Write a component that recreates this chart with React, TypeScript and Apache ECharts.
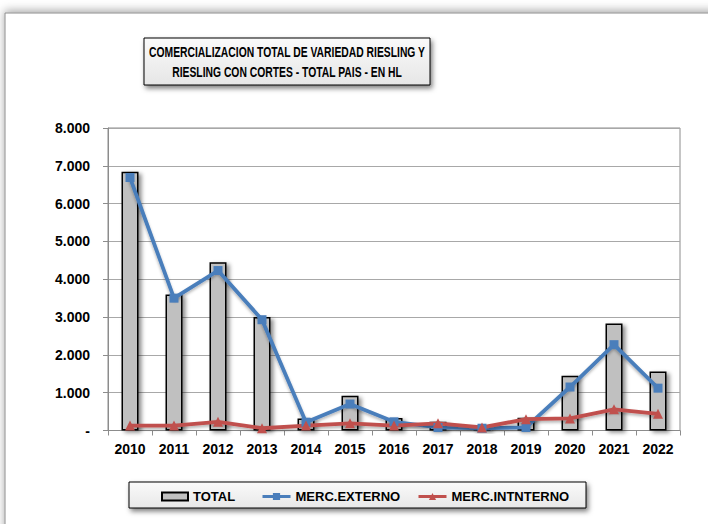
import React, { useEffect, useRef } from "react";
import * as echarts from "echarts";

const years = ["2010", "2011", "2012", "2013", "2014", "2015", "2016", "2017", "2018", "2019", "2020", "2021", "2022"];
const total = [6840, 3600, 4450, 3000, 320, 920, 330, 230, 130, 340, 1450, 2830, 1560];
const externo = [6690, 3500, 4230, 2930, 220, 700, 230, 80, 60, 80, 1150, 2270, 1120];
const interno = [130, 130, 230, 60, 130, 190, 130, 190, 80, 300, 320, 560, 440];
const titleLines = ["COMERCIALIZACION TOTAL DE VARIEDAD RIESLING Y", "RIESLING CON CORTES - TOTAL PAIS - EN HL"];
const seriesNames = ["TOTAL", "MERC.EXTERNO", "MERC.INTNTERNO"];

const fmt = (v: number) => (v === 0 ? "-" : String(v).replace(/\B(?=(\d{3})+(?!\d))/g, "."));

const AXIS_FONT = "'Liberation Sans', Arial, sans-serif";

export default function App() {
  const ref = useRef<HTMLDivElement>(null);
  useEffect(() => {
    if (!ref.current) return;
    const chart = echarts.init(ref.current, null, { renderer: "svg" });
    const legendText = { fontFamily: AXIS_FONT, fontWeight: "bold", fontSize: 13, color: "#000" };
    const legendBase = { top: 490, itemWidth: 28, itemHeight: 9, padding: 0, textStyle: legendText, lineStyle: { width: 3 } };
    chart.setOption({
      animation: false,
      backgroundColor: "#ffffff",
      graphic: [
        {
          type: "rect",
          z: -10,
          silent: true,
          shape: { x: 5, y: 13, width: 760, height: 560 },
          style: { fill: "#ffffff", stroke: "#8c8c8c", lineWidth: 1, shadowBlur: 10, shadowColor: "rgba(0,0,0,0.35)", shadowOffsetY: -2 },
        },
        {
          type: "rect",
          silent: true,
          shape: { x: 144, y: 38, width: 286, height: 47 },
          style: {
            fill: new echarts.graphic.LinearGradient(0, 0, 0, 1, [
              { offset: 0, color: "#fafafa" },
              { offset: 1, color: "#e6e6e6" },
            ]),
            stroke: "#000",
            lineWidth: 1,
            shadowBlur: 5,
            shadowOffsetX: 2,
            shadowOffsetY: 3,
            shadowColor: "rgba(0,0,0,0.5)",
          },
        },
        {
          type: "text",
          silent: true,
          x: 287,
          y: 52,
          scaleX: 0.69,
          style: { text: titleLines[0], fill: "#000", font: `bold 15px ${AXIS_FONT}`, align: "center", verticalAlign: "middle" },
        },
        {
          type: "text",
          silent: true,
          x: 287,
          y: 72,
          scaleX: 0.69,
          style: { text: titleLines[1], fill: "#000", font: `bold 15px ${AXIS_FONT}`, align: "center", verticalAlign: "middle" },
        },
        {
          type: "rect",
          silent: true,
          z: -1,
          shape: { x: 129, y: 482, width: 457, height: 26 },
          style: {
            fill: new echarts.graphic.LinearGradient(0, 0, 0, 1, [
              { offset: 0, color: "#fafafa" },
              { offset: 1, color: "#e8e8e8" },
            ]),
            stroke: "#000",
            lineWidth: 1,
            shadowBlur: 5,
            shadowOffsetX: 2,
            shadowOffsetY: 3,
            shadowColor: "rgba(0,0,0,0.5)",
          },
        },
      ],
      legend: [
        { ...legendBase, left: 161, itemHeight: 8, itemWidth: 26, data: [{ name: seriesNames[0], icon: "rect" }] },
        { ...legendBase, left: 261, data: [seriesNames[1]] },
        { ...legendBase, left: 417, data: [seriesNames[2]] },
      ],
      grid: { left: 108, top: 128, width: 572, height: 302.5, show: true, borderColor: "#8c8c8c", borderWidth: 1, backgroundColor: "#fff", containLabel: false },
      xAxis: {
        type: "category",
        data: years,
        boundaryGap: true,
        axisLine: { show: true, lineStyle: { color: "#8c8c8c", width: 1 } },
        axisTick: { show: true, interval: 0, length: 5, lineStyle: { color: "#8c8c8c" } },
        axisLabel: { color: "#000", fontFamily: AXIS_FONT, fontWeight: "bold", fontSize: 14, margin: 11, interval: 0 },
      },
      yAxis: {
        type: "value",
        min: 0,
        max: 8000,
        interval: 1000,
        axisLine: { show: true, lineStyle: { color: "#8c8c8c", width: 1 } },
        axisTick: { show: true, length: 5, lineStyle: { color: "#8c8c8c" } },
        axisLabel: { color: "#000", fontFamily: AXIS_FONT, fontWeight: "bold", fontSize: 14, margin: 18, formatter: fmt },
        splitLine: { show: true, lineStyle: { color: "#a8a8a8", width: 1 } },
      },
      series: [
        {
          name: seriesNames[0],
          type: "bar",
          data: total,
          barWidth: 17,
          itemStyle: {
            color: "#c0c0c0",
            borderColor: "#000",
            borderWidth: 1.5,
            shadowBlur: 4,
            shadowOffsetX: 3,
            shadowOffsetY: 2,
            shadowColor: "rgba(0,0,0,0.45)",
          },
        },
        {
          name: seriesNames[1],
          type: "line",
          data: externo,
          symbol: "rect",
          symbolSize: 9,
          color: "#4a7ebb",
          lineStyle: { color: "#4a7ebb", width: 3.8, shadowBlur: 3, shadowOffsetY: 2, shadowColor: "rgba(0,0,0,0.3)" },
          itemStyle: { color: "#4a7ebb" },
        },
        {
          name: seriesNames[2],
          type: "line",
          data: interno,
          symbol: "triangle",
          symbolSize: 10,
          color: "#c0504d",
          lineStyle: { color: "#c0504d", width: 3.8, shadowBlur: 3, shadowOffsetY: 2, shadowColor: "rgba(0,0,0,0.3)" },
          itemStyle: { color: "#c0504d" },
        },
      ],
    });
    return () => chart.dispose();
  }, []);
  return <div ref={ref} style={{ position: "fixed", left: 0, top: 0, width: 708, height: 524 }} />;
}
